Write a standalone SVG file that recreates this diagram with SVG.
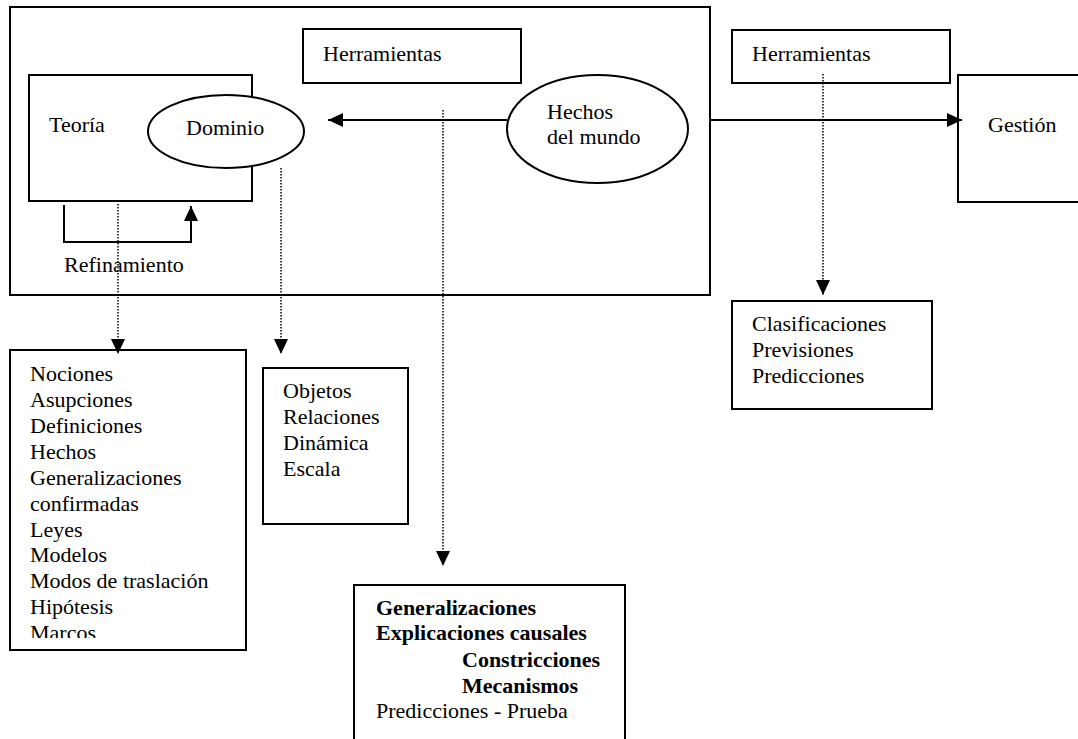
<svg xmlns="http://www.w3.org/2000/svg" width="1078" height="739" viewBox="0 0 1078 739">
<style>
.box{fill:#fff;stroke:#000;stroke-width:2}
.ell{fill:#fff;stroke:#000;stroke-width:2}
.t{font-family:"Liberation Serif","Times New Roman",serif;font-size:22px;fill:#000}
.b{font-weight:bold}
.solid{fill:none;stroke:#000;stroke-width:2}
.dot{fill:none;stroke:#000;stroke-width:1.5;stroke-dasharray:1.5 1.5}
</style>
<defs>
<marker id="ah" markerUnits="userSpaceOnUse" markerWidth="16" markerHeight="14" refX="15" refY="7" orient="auto">
<path d="M0,0 L15,7 L0,14 Z" fill="#000"/>
</marker>
<clipPath id="clipN"><rect x="10" y="350" width="236" height="288"/></clipPath>
</defs>
<rect width="1078" height="739" fill="#fff"/>
<g id="outer"><rect class="box" x="10" y="7" width="700" height="288"/></g>
<g id="teoria"><rect class="box" x="29" y="75" width="223" height="126"/><text class="t" x="49" y="132">Teoría</text></g>
<g id="dominio"><ellipse class="ell" cx="226" cy="131.5" rx="78" ry="36.5"/><text class="t" x="186" y="135">Dominio</text></g>
<g id="herr1"><rect class="box" x="303" y="29" width="218" height="54"/><text class="t" x="323" y="61">Herramientas</text></g>
<g id="hechos"><ellipse class="ell" cx="597.5" cy="129" rx="90.5" ry="54"/><text class="t" x="547" y="119">Hechos</text><text class="t" x="547" y="144">del mundo</text></g>
<g id="herr2"><rect class="box" x="732" y="30" width="218" height="53"/><text class="t" x="752" y="61">Herramientas</text></g>
<g id="gestion"><rect class="box" x="958" y="75" width="130" height="127"/><text class="t" x="988" y="132">Gestión</text></g>
<g id="nociones"><rect class="box" x="10" y="350" width="236" height="300"/>
<g clip-path="url(#clipN)">
<text class="t" x="30" y="381">Nociones</text>
<text class="t" x="30" y="407">Asupciones</text>
<text class="t" x="30" y="433">Definiciones</text>
<text class="t" x="30" y="459">Hechos</text>
<text class="t" x="30" y="485">Generalizaciones</text>
<text class="t" x="30" y="511">confirmadas</text>
<text class="t" x="30" y="537">Leyes</text>
<text class="t" x="30" y="562">Modelos</text>
<text class="t" x="30" y="588">Modos de traslación</text>
<text class="t" x="30" y="614">Hipótesis</text>
<text class="t" x="30" y="640">Marcos</text>
</g></g>
<g id="objetos"><rect class="box" x="263" y="368" width="145" height="156"/>
<text class="t" x="283" y="398">Objetos</text>
<text class="t" x="283" y="424">Relaciones</text>
<text class="t" x="283" y="450">Dinámica</text>
<text class="t" x="283" y="476">Escala</text></g>
<g id="clasif"><rect class="box" x="732" y="301" width="200" height="108"/>
<text class="t" x="752" y="331">Clasificaciones</text>
<text class="t" x="752" y="357">Previsiones</text>
<text class="t" x="752" y="383">Predicciones</text></g>
<g id="generaliz"><rect class="box" x="354" y="585" width="271" height="170"/>
<text class="t b" x="376" y="615">Generalizaciones</text>
<text class="t b" x="376" y="640">Explicaciones causales</text>
<text class="t b" x="462" y="667">Constricciones</text>
<text class="t b" x="462" y="693">Mecanismos</text>
<text class="t" x="376" y="718">Predicciones - Prueba</text></g>
<g id="refin-label"><text class="t" x="64" y="272">Refinamiento</text></g>
<g id="connectors">
<line class="solid" x1="507" y1="120" x2="328" y2="120" marker-end="url(#ah)"/>
<line class="solid" x1="710" y1="120" x2="962" y2="120" marker-end="url(#ah)"/>
<polyline class="solid" points="64,205 64,242 191,242 191,206" marker-end="url(#ah)"/>
<line class="dot" x1="118" y1="204" x2="118" y2="354" marker-end="url(#ah)"/>
<line class="dot" x1="281" y1="168" x2="281" y2="354" marker-end="url(#ah)"/>
<line class="dot" x1="443" y1="110" x2="443" y2="566" marker-end="url(#ah)"/>
<line class="dot" x1="823" y1="74" x2="823" y2="295" marker-end="url(#ah)"/>
</g>
</svg>
